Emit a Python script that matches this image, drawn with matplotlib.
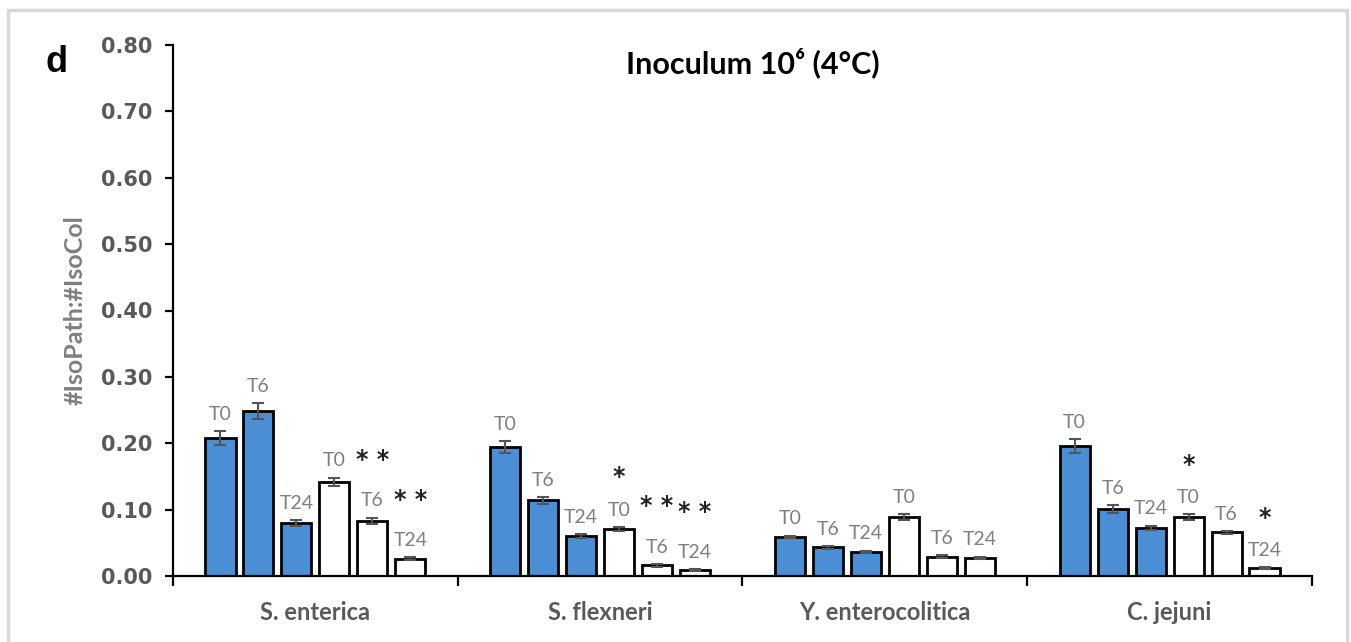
import matplotlib
matplotlib.use("Agg")
import matplotlib.pyplot as plt
from matplotlib.patches import Rectangle
import numpy as np

# ---- data ----
species = ["S. enterica", "S. flexneri", "Y. enterocolitica", "C. jejuni"]
timepoints = ["T0", "T6", "T24", "T0", "T6", "T24"]
# first three bars of each group are filled (blue), last three are open (white)
ratio_s_enterica = [0.208, 0.248, 0.080, 0.142, 0.083, 0.026]
ratio_s_flexneri = [0.194, 0.114, 0.060, 0.071, 0.016, 0.009]
ratio_y_entero = [0.059, 0.043, 0.036, 0.089, 0.029, 0.027]
ratio_c_jejuni = [0.196, 0.101, 0.073, 0.089, 0.066, 0.012]
err_s_enterica = [0.010, 0.012, 0.004, 0.006, 0.005, 0.002]
err_s_flexneri = [0.009, 0.005, 0.003, 0.003, 0.002, 0.001]
err_y_entero = [0.002, 0.002, 0.002, 0.004, 0.002, 0.002]
err_c_jejuni = [0.010, 0.006, 0.003, 0.004, 0.002, 0.001]
signif_s_enterica = ["", "", "", "", "* *", "* *"]
signif_s_flexneri = ["", "", "", "*", "* *", "* *"]
signif_y_entero = ["", "", "", "", "", ""]
signif_c_jejuni = ["", "", "", "*", "", "*"]
y_ticks = [0.0, 0.1, 0.2, 0.3, 0.4, 0.5, 0.6, 0.7, 0.8]

values = [ratio_s_enterica, ratio_s_flexneri, ratio_y_entero, ratio_c_jejuni]
errors = [err_s_enterica, err_s_flexneri, err_y_entero, err_c_jejuni]
signif = [signif_s_enterica, signif_s_flexneri, signif_y_entero, signif_c_jejuni]

BLUE = "#4a8fd6"
GREY_TXT = "#595959"
LABEL_GREY = "#7f7f7f"

fig = plt.figure(figsize=(13.51, 6.42), dpi=100)
ax = fig.add_axes([173 / 1351, 66 / 642, (1312 - 173) / 1351, (576 - 45) / 642])

step = 0.1334
width = 0.106
n = len(timepoints)
for gi, (vals, errs, sig) in enumerate(zip(values, errors, signif)):
    for bi in range(n):
        x = gi + (bi - (n - 1) / 2) * step
        face = BLUE if bi < 3 else "white"
        ax.bar(x, vals[bi], width=width, color=face, edgecolor="black",
               linewidth=2.0, zorder=2)
        ax.errorbar(x, vals[bi], yerr=errs[bi], fmt="none", ecolor="#555555",
                    elinewidth=1.5, capsize=4.5, capthick=1.5, zorder=3)
        top = vals[bi] + errs[bi]
        ax.annotate(timepoints[bi], (x, top), xytext=(0, 6),
                    textcoords="offset points", ha="center", va="bottom",
                    fontsize=14, color=LABEL_GREY, family="Lato")
        if sig[bi]:
            off = 33 if sig[bi] == "* *" else 27
            ax.annotate(sig[bi], (x, top), xytext=(0, off),
                        textcoords="offset points", ha="center", va="bottom",
                        fontsize=17, color="#222222", family="DejaVu Sans",
                        fontweight="bold")

ax.set_xlim(-0.5, len(species) - 0.5)
ax.set_ylim(0, 0.8)

# spines
for s in ["top", "right"]:
    ax.spines[s].set_visible(False)
for s in ["left", "bottom"]:
    ax.spines[s].set_linewidth(1.6)
    ax.spines[s].set_color("black")

ax.set_yticks(y_ticks)
ax.set_yticklabels([f"{v:.2f}" for v in y_ticks], fontsize=15,
                   fontweight="bold", color=GREY_TXT, family="DejaVu Sans")
ax.tick_params(axis="y", direction="out", length=6, width=1.6, pad=9)

ax.set_xticks(range(len(species)))
ax.set_xticklabels(species, fontsize=17, fontweight="bold", color=GREY_TXT,
                   family="Lato")
ax.tick_params(axis="x", which="major", length=0, pad=18)
ax.set_xticks(np.arange(-0.5, len(species), 1.0), minor=True)
ax.tick_params(axis="x", which="minor", direction="out", length=7, width=1.6)

ax.set_ylabel("#IsoPath:#IsoCol", fontsize=18, fontweight="bold",
              color=LABEL_GREY, family="Lato", labelpad=10)

fig.text(753 / 1351, 1 - 63 / 642, "Inoculum 10⁶ (4°C)", ha="center",
         va="center", fontsize=22, fontweight="bold", color="black",
         family=["Lato", "DejaVu Sans"])
fig.text(57 / 1351, 1 - 62 / 642, "d", ha="center", va="center", fontsize=26,
         fontweight="bold", color="black", family="Liberation Sans")

# light frame around the panel
fig.patches.append(Rectangle((8 / 1351, -0.05), (1347 - 8) / 1351,
                             1 - 10 / 642 + 0.05, transform=fig.transFigure,
                             fill=False, edgecolor="#d9d9d9", linewidth=2.5))

fig.savefig("out.png", dpi=100)
